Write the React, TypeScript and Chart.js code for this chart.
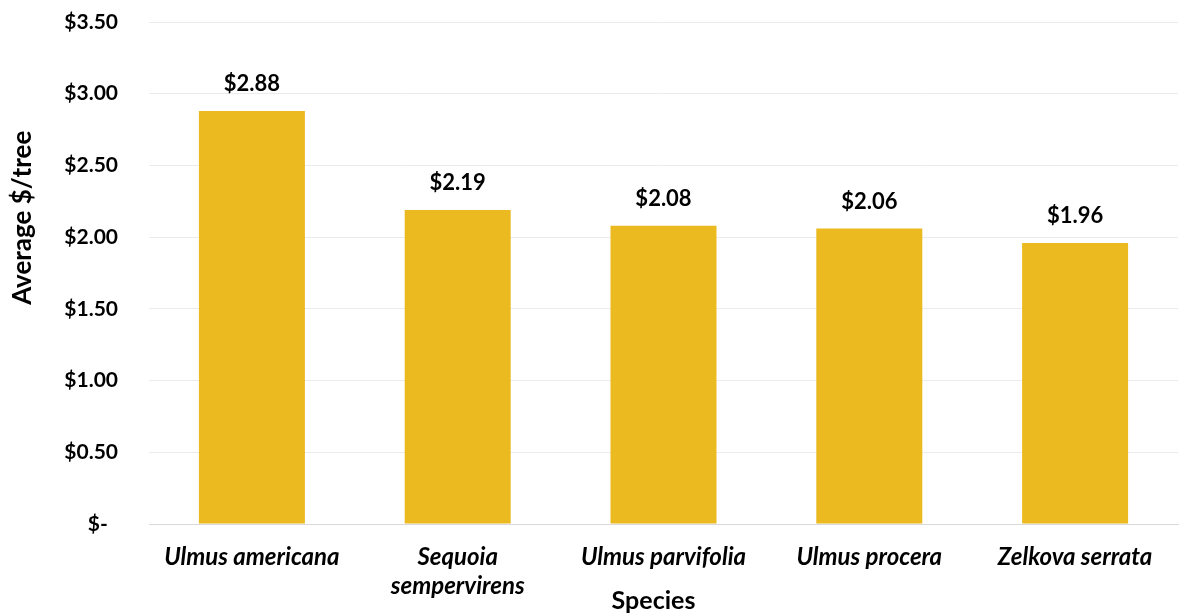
import React, { useEffect, useRef } from "react";
import { Chart, registerables } from "chart.js";

Chart.register(...registerables);

const species: (string | string[])[] = [
  "Ulmus americana",
  ["Sequoia", "sempervirens"],
  "Ulmus parvifolia",
  "Ulmus procera",
  "Zelkova serrata",
];
const avgDollarsPerTree: number[] = [2.88, 2.19, 2.08, 2.06, 1.96];
const yTicks: number[] = [0, 0.5, 1, 1.5, 2, 2.5, 3, 3.5];
const xTitle = "Species";
const yTitle = "Average $/tree";

const FONT = "Lato, 'Open Sans', sans-serif";
const BAR_COLOR = "#EBB920";

const dataLabelPlugin = {
  id: "dataLabels",
  afterDatasetsDraw(chart: any) {
    const ctx = chart.ctx;
    const meta = chart.getDatasetMeta(0);
    ctx.save();
    ctx.font = `bold 22px ${FONT}`;
    ctx.fillStyle = "#000";
    ctx.textAlign = "center";
    ctx.textBaseline = "middle";
    meta.data.forEach((bar: any, i: number) => {
      const v = chart.data.datasets[0].data[i] as number;
      ctx.fillText("$" + v.toFixed(2), bar.x, bar.y - 27);
    });
    ctx.restore();
  },
};

const axisTitlePlugin = {
  id: "axisTitles",
  afterDraw(chart: any) {
    const ctx = chart.ctx;
    const area = chart.chartArea;
    ctx.save();
    ctx.fillStyle = "#000";
    ctx.textAlign = "center";
    ctx.textBaseline = "middle";
    ctx.font = `bold 25px ${FONT}`;
    ctx.fillText(xTitle, (area.left + area.right) / 2 - 10, chart.height - 15);
    ctx.font = `bold 26px ${FONT}`;
    ctx.translate(23, area.top + (area.bottom - area.top) * 0.39);
    ctx.rotate(-Math.PI / 2);
    ctx.fillText(yTitle, 0, 0);
    ctx.restore();
  },
};

export default function App() {
  const ref = useRef<HTMLCanvasElement | null>(null);
  useEffect(() => {
    document.body.style.margin = "0";
    const chart = new Chart(ref.current as HTMLCanvasElement, {
      type: "bar",
      data: {
        labels: species,
        datasets: [
          {
            data: avgDollarsPerTree,
            backgroundColor: BAR_COLOR,
            barPercentage: 0.515,
            categoryPercentage: 1,
          },
        ],
      },
      options: {
        animation: false,
        responsive: false,
        layout: { padding: { top: 22, right: 20, left: 0, bottom: 0 } },
        plugins: { legend: { display: false }, tooltip: { enabled: false } },
        scales: {
          x: {
            grid: { display: false, drawTicks: false },
            border: { color: "#d9d9d9", width: 1 },
            ticks: {
              color: "#000",
              padding: 19,
              font: { family: FONT, size: 24, weight: "bold", style: "italic", lineHeight: 1.2 },
              maxRotation: 0,
              autoSkip: false,
            },
            afterFit: (s: any) => {
              s.height = 92;
              s.paddingLeft = 0;
              s.paddingRight = 0;
            },
          },
          y: {
            min: 0,
            max: 3.5,
            afterBuildTicks: (s: any) => {
              s.ticks = yTicks.map((v) => ({ value: v }));
            },
            grid: {
              drawTicks: false,
              color: (c: any) => (c.tick && c.tick.value === 0 ? "#d9d9d9" : "#ebebeb"),
            },
            border: { display: false },
            ticks: {
              color: "#000",
              padding: 31,
              font: { family: FONT, size: 21, weight: "bold" },
              callback: (v: any) => (Number(v) === 0 ? "$-  " : "$" + Number(v).toFixed(2)),
            },
            afterFit: (s: any) => {
              s.width = 149;
              s.paddingTop = 0;
              s.paddingBottom = 0;
            },
          },
        },
      },
      plugins: [dataLabelPlugin, axisTitlePlugin],
    });
    return () => chart.destroy();
  }, []);
  return (
    <div style={{ width: 1198, height: 616 }}>
      <canvas ref={ref} width={1198} height={616} />
    </div>
  );
}
